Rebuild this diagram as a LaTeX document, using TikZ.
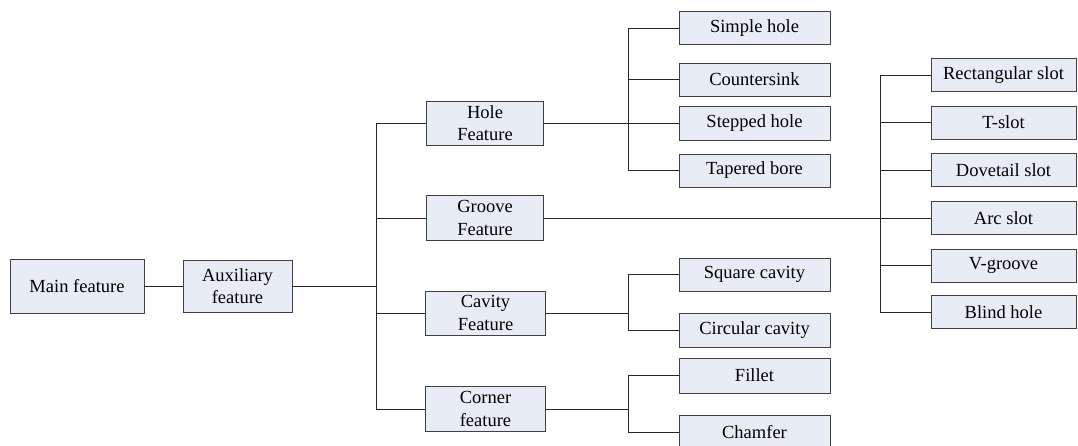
\documentclass[tikz,border=0pt]{standalone}
\usepackage{fontspec}
\setmainfont{Liberation Serif}
\begin{document}
\begin{tikzpicture}[x=1pt,y=-1pt,
  box/.style={draw=black!75,fill=boxfill,line width=0.9pt,inner sep=0pt,align=center,
    font=\fontsize{18.5}{22.5}\selectfont},
  link/.style={draw=black!85,line width=0.9pt}]
\definecolor{boxfill}{HTML}{E7ECF7}
\clip (0,0) rectangle (1078,446);
\fill[white] (0,0) rectangle (1078,446);
% level 0/1
\node[box,minimum width=134pt,minimum height=54pt] (main) at (77,286) {Main feature};
\node[box,minimum width=109pt,minimum height=52pt] (aux) at (237.5,286) {Auxiliary\\feature};
% level 2
\node[box,minimum width=117pt,minimum height=44pt] (hole) at (485,123) {Hole\\Feature};
\node[box,minimum width=117pt,minimum height=45pt] (groove) at (485,218) {Groove\\Feature};
\node[box,minimum width=120pt,minimum height=44pt] (cavity) at (485.5,313) {Cavity\\Feature};
\node[box,minimum width=120pt,minimum height=45pt] (corner) at (485.5,409) {Corner\\feature};
% hole children
\node[box,minimum width=151pt,minimum height=33pt] (simple) at (754.5,28) {Simple hole};
\node[box,minimum width=151pt,minimum height=33pt] (counter) at (754.5,79.5) {Countersink};
\node[box,minimum width=151pt,minimum height=34pt] (stepped) at (754.5,123) {Stepped hole};
\node[box,minimum width=151pt,minimum height=33pt] (tapered) at (754.5,170.5) {Tapered bore};
% cavity children
\node[box,minimum width=151pt,minimum height=33pt] (square) at (754.5,274.5) {Square cavity};
\node[box,minimum width=151pt,minimum height=34pt] (circular) at (754.5,330) {Circular cavity};
% corner children
\node[box,minimum width=151pt,minimum height=35pt] (fillet) at (754.5,375.5) {Fillet};
\node[box,minimum width=151pt,minimum height=34pt] (chamfer) at (754.5,432) {Chamfer};
% groove children
\node[box,minimum width=145pt,minimum height=33pt] (rect) at (1003.5,75) {Rectangular slot};
\node[box,minimum width=145pt,minimum height=33pt] (tslot) at (1003.5,122.5) {T-slot};
\node[box,minimum width=145pt,minimum height=33pt] (dove) at (1003.5,170) {Dovetail slot};
\node[box,minimum width=145pt,minimum height=33pt] (arc) at (1003.5,218) {Arc slot};
\node[box,minimum width=145pt,minimum height=33pt] (vg) at (1003.5,265.5) {V-groove};
\node[box,minimum width=145pt,minimum height=33pt] (blind) at (1003.5,312) {Blind hole};
% trunk coordinates
\coordinate (t1) at (376,0);
\coordinate (t2) at (628,0);
\coordinate (t3) at (880,0);
% connectors
\draw[link] (main.east) -- (aux.west);
\draw[link] (aux.east) -- (aux.east -| t1);
\draw[link] (hole.west) -- (hole.west -| t1) |- (corner.west);
\draw[link] (groove.west) -- (groove.west -| t1);
\draw[link] (cavity.west) -- (cavity.west -| t1);
\draw[link] (hole.east) -- (stepped.west);
\draw[link] (simple.west) -- (simple.west -| t2) |- (tapered.west);
\draw[link] (counter.west) -- (counter.west -| t2);
\draw[link] (groove.east) -- (arc.west);
\draw[link] (rect.west) -- (rect.west -| t3) |- (blind.west);
\draw[link] (tslot.west) -- (tslot.west -| t3);
\draw[link] (dove.west) -- (dove.west -| t3);
\draw[link] (vg.west) -- (vg.west -| t3);
\draw[link] (cavity.east) -- (cavity.east -| t2);
\draw[link] (square.west) -- (square.west -| t2) |- (circular.west);
\draw[link] (corner.east) -- (corner.east -| t2);
\draw[link] (fillet.west) -- (fillet.west -| t2) |- (chamfer.west);
\end{tikzpicture}
\end{document}
